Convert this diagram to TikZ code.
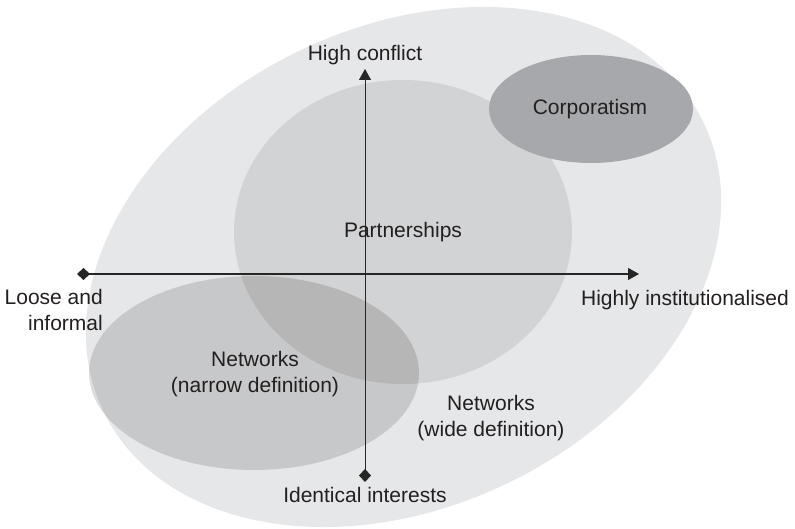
\documentclass[tikz,border=0pt]{standalone}
\usepackage{fontspec}
\setmainfont{Liberation Sans}
\usetikzlibrary{arrows.meta}
\definecolor{outerfill}{RGB}{230,231,233}
\definecolor{corpfill}{RGB}{167,168,171}
\definecolor{txt}{RGB}{35,31,32}
\tikzset{
  lbl/.style={inner sep=0pt, text=txt, font=\fontsize{21}{26}\selectfont, align=center},
  axisline/.style={draw=black!85, {Turned Square[width=12pt,length=13pt]}-{Triangle[width=12pt,length=11pt]}},
  shade1/.style={fill=black, fill opacity=0.087, draw=none},
  shade2/.style={fill=black, fill opacity=0.135, draw=none},
}
\begin{document}
\begin{tikzpicture}[x=1pt,y=1pt]
\useasboundingbox (0,0) rectangle (795,529);
% regions
\fill[outerfill] (403.5,262) ellipse[x radius=333, y radius=240, rotate=25.7];
\path[shade1] (403,297) ellipse[x radius=169, y radius=152];
\path[shade2] (254,156) ellipse[x radius=165, y radius=97];
\fill[corpfill] (591,420) ellipse[x radius=102, y radius=54];
% axes
\coordinate (xl) at (77,255);
\coordinate (xr) at (639,255);
\coordinate (yt) at (365,460);
\coordinate (yb) at (365,47);
\draw[axisline, line width=1.1pt] (xl) -- (xr);
\draw[axisline, line width=0.8pt] (yb) -- (yt);
% labels
\node[lbl, anchor=base] (hc) at (365,468) {High conflict};
\node[lbl, anchor=base] (ii) at (365,26) {Identical interests};
\node[lbl, anchor=base] (hi) at (685,223) {Highly institutionalised};
\node[lbl, align=right, anchor=base east] (li) at (103,198) {Loose and\\informal};
\node[lbl, anchor=base] (pa) at (403,291) {Partnerships};
\node[lbl, anchor=base] (co) at (590,414) {Corporatism};
\node[lbl, anchor=base] (nn) at (255,136) {Networks\\(narrow definition)};
\node[lbl, anchor=base] (nw) at (491,92) {Networks\\(wide definition)};
\end{tikzpicture}
\end{document}
